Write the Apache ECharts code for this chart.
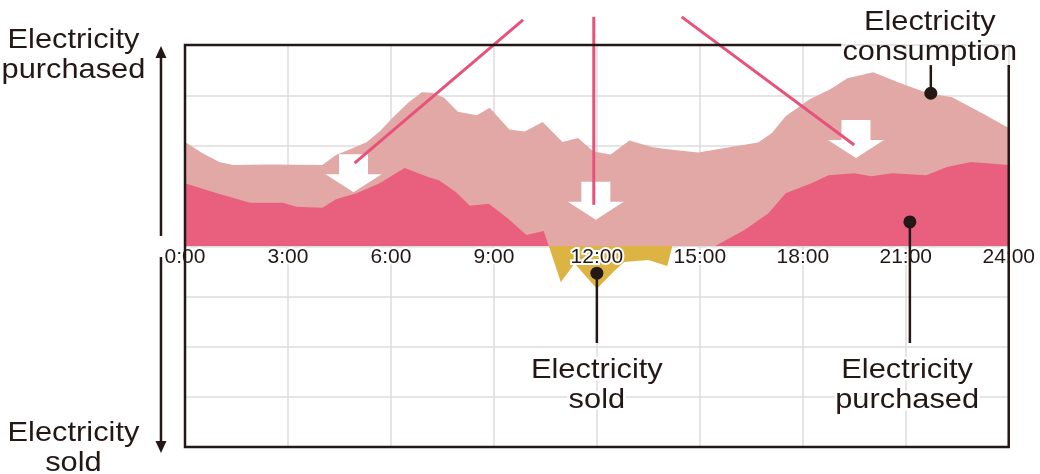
<!DOCTYPE html>
<html>
<head>
<meta charset="utf-8">
<script src="https://cdn.jsdelivr.net/npm/echarts@6/dist/echarts.min.js"></script>
<style>
  html, body { margin: 0; padding: 0; background: #ffffff; }
  #chart { width: 1040px; height: 474px; }
</style>
</head>
<body>
<div id="chart"></div>
<script>
// Time of day (hours) on x, relative power on y (positive = drawn from grid, negative = fed back).
const tickLabels = ['0:00', '3:00', '6:00', '9:00', '12:00', '15:00', '18:00', '21:00', '24:00'];

// Household electricity consumption over the day
const consumption = [
  [0, 2.07], [0.5, 1.85], [1.0, 1.67], [1.4, 1.61], [2.5, 1.62], [4.0, 1.61],
  [4.4, 1.81], [4.9, 1.95], [5.3, 2.07], [5.7, 2.3], [6.05, 2.55], [6.5, 2.85],
  [6.9, 3.06], [7.2, 3.05], [7.55, 2.95], [7.95, 2.67], [8.5, 2.6], [8.88, 2.75],
  [9.45, 2.32], [9.9, 2.28], [10.42, 2.47], [11.0, 2.07], [11.45, 2.15], [11.9, 1.88],
  [12.4, 1.82], [12.95, 2.1], [13.6, 1.97], [14.0, 1.93], [14.95, 1.86], [15.9, 1.97],
  [16.7, 2.06], [17.1, 2.25], [17.5, 2.58], [18.2, 2.92], [18.8, 3.12], [19.3, 3.34],
  [20.05, 3.46], [20.85, 3.24], [21.65, 3.04], [22.35, 2.96], [23.2, 2.65], [24, 2.35]
];

// Electricity purchased from the grid
const purchased = [
  [0, 1.25], [0.93, 1.05], [1.9, 0.86], [2.85, 0.86], [3.25, 0.78], [4.0, 0.76],
  [4.4, 0.93], [5.0, 1.05], [5.67, 1.25], [6.05, 1.41], [6.4, 1.55], [7.1, 1.37],
  [7.4, 1.31], [7.9, 1.07], [8.3, 0.8], [8.85, 0.84], [9.4, 0.55], [9.95, 0.22],
  [10.45, 0.3], [10.6, 0], [15.45, 0], [16.3, 0.32], [17.0, 0.65], [17.5, 1.05],
  [18.25, 1.25], [18.75, 1.41], [19.5, 1.45], [20.0, 1.39], [20.6, 1.45], [21.6, 1.41],
  [22.2, 1.57], [22.9, 1.67], [24, 1.61]
];

// Surplus electricity sold back (negative side)
const sold = [
  [10.6, 0], [10.95, -0.72], [11.35, -0.35], [12.0, -0.85], [12.5, -0.5],
  [12.8, -0.32], [13.5, -0.28], [14.05, -0.4], [14.2, 0]
];

const INK = '#231815';
const RED = '#E8527A';
const FONT = '"Liberation Sans", Arial, sans-serif';

const chart = echarts.init(document.getElementById('chart'), null, { renderer: 'canvas' });

function areaSeries(name, data, color, z) {
  return {
    name: name,
    type: 'line',
    data: data,
    xAxisIndex: 0,
    yAxisIndex: 0,
    symbol: 'none',
    smooth: false,
    z: z,
    lineStyle: { width: 0, opacity: 0 },
    areaStyle: { color: color, opacity: 1 },
    silent: true
  };
}

chart.setOption({
  animation: false,
  grid: { left: 185, right: 29, top: 45, bottom: 27, containLabel: false },
  xAxis: [
    {
      // time axis, moved up onto the zero line below; labels drawn above the areas
      type: 'value', min: 0, max: 24, interval: 3, position: 'bottom', z: 10,
      axisLine: { show: false, onZero: false },
      axisTick: { show: false },
      splitLine: { show: false },
      axisLabel: {
        show: true, margin: 1, fontSize: 21, fontFamily: FONT, color: INK,
        textBorderColor: '#ffffff', textBorderWidth: 4,
        showMinLabel: true, showMaxLabel: true,
        formatter: v => tickLabels[Math.round(v / 3)]
      }
    },
    {
      // vertical grid lines, kept beneath the areas
      type: 'value', min: 0, max: 24, interval: 3, position: 'top', z: 0,
      axisLine: { show: false, onZero: false },
      axisTick: { show: false },
      axisLabel: { show: false },
      splitLine: { show: true, lineStyle: { color: '#DCDCDC', width: 1.5 } }
    }
  ],
  yAxis: {
    type: 'value', min: -4, max: 4, interval: 1,
    axisLine: { show: false, onZero: false }, axisTick: { show: false }, axisLabel: { show: false },
    splitLine: { show: true, lineStyle: { color: '#DCDCDC', width: 1.5 } }
  },
  series: [
    areaSeries('Electricity consumption', consumption, '#E2A8A6', 2),
    areaSeries('Electricity purchased', purchased, '#E9607F', 3),
    areaSeries('Electricity sold', sold, '#DDB443', 4)
  ]
});

const P = (h, v) => chart.convertToPixel({ gridIndex: 0 }, [h, v]);

function downArrow(tip, z) {
  const sw = 29, sh = 20, hw = 56, hh = 18;
  const x = tip[0], y = tip[1];
  return {
    type: 'polygon', z: z, silent: true,
    shape: { points: [
      [x - sw / 2, y - hh - sh], [x + sw / 2, y - hh - sh], [x + sw / 2, y - hh],
      [x + hw / 2, y - hh], [x, y], [x - hw / 2, y - hh], [x - sw / 2, y - hh]
    ] },
    style: { fill: '#ffffff' }
  };
}

function line(a, b, color, width, z) {
  return {
    type: 'line', z: z, silent: true,
    shape: { x1: a[0], y1: a[1], x2: b[0], y2: b[1] },
    style: { stroke: color, lineWidth: width }
  };
}

function dot(c, z) {
  return { type: 'circle', z: z, silent: true, shape: { cx: c[0], cy: c[1], r: 6.5 }, style: { fill: INK } };
}

function label(c, text, halo, z) {
  return {
    type: 'text', z: z, silent: true, x: c[0], y: c[1], scaleX: 1.1,
    style: {
      text: text, x: 0, y: 0, align: 'center', verticalAlign: 'middle',
      font: '28px ' + FONT, lineHeight: 30, fill: INK,
      stroke: halo ? '#ffffff' : null, lineWidth: halo ? 5 : 0
    }
  };
}

function axisArrow(from, to, z) {
  const dir = to[1] < from[1] ? -1 : 1;
  const hh = 12, hw = 11;
  return [
    line(from, [to[0], to[1] - dir * hh], INK, 2.5, z),
    {
      type: 'polygon', z: z, silent: true,
      shape: { points: [[to[0], to[1]], [to[0] - hw / 2, to[1] - dir * hh], [to[0] + hw / 2, to[1] - dir * hh]] },
      style: { fill: INK }
    }
  ];
}

const tl = P(0, 4), br = P(24, -4), zero = P(0, 0);
const gapX = P(19.12, 4)[0];
const rightTop = P(24, 3.6)[1];

const graphics = [
  // thin zero line under the areas
  { type: 'line', z: 1, silent: true,
    shape: { x1: tl[0], y1: zero[1] + 1, x2: br[0], y2: zero[1] + 1 },
    style: { stroke: '#D3DADA', lineWidth: 1 } },
  // frame, open at the top right corner for the consumption label
  {
    type: 'polyline', z: 20, silent: true,
    shape: { points: [[gapX, tl[1]], [tl[0], tl[1]], [tl[0], br[1]], [br[0], br[1]], [br[0], rightTop]] },
    style: { stroke: INK, lineWidth: 2.5, fill: null }
  },
  // direction arrows beside the plot
  ...axisArrow(P(-0.7, 0.2), P(-0.7, 3.98), 20),
  ...axisArrow(P(-0.7, -0.22), P(-0.7, -4.12), 20),
  label(P(-3.25, 3.8), 'Electricity\npurchased', false, 20),
  label(P(-3.25, -4.02), 'Electricity\nsold', false, 20),

  // white arrows showing the reduction in purchased electricity
  downArrow(P(4.91, 1.07), 15),
  downArrow(P(11.97, 0.52), 15),
  downArrow(P(19.55, 1.75), 15),
  line(P(9.85, 4.5), P(4.94, 1.65), RED, 3, 16),
  line(P(11.91, 4.56), P(11.91, 0.82), RED, 3, 16),
  line(P(14.47, 4.56), P(19.5, 2.01), RED, 3, 16),

  // callouts
  line(P(21.73, 3.6), P(21.73, 3.04), INK, 2.5, 21),
  dot(P(21.73, 3.04), 21),
  label(P(21.7, 4.16), 'Electricity\nconsumption', false, 21),

  line(P(21.12, 0.48), P(21.12, -1.93), INK, 2.5, 21),
  dot(P(21.12, 0.48), 21),
  label(P(21.04, -2.77), 'Electricity\npurchased', true, 21),

  line(P(12.0, -0.54), P(12.0, -1.93), INK, 2.5, 21),
  dot(P(12.0, -0.54), 21),
  label(P(12.0, -2.77), 'Electricity\nsold', true, 21)
];

// lift the time axis from the grid bottom onto the zero line
chart.setOption({
  xAxis: [{ offset: -(br[1] - zero[1]) }, {}],
  graphic: graphics
});
</script>
</body>
</html>
